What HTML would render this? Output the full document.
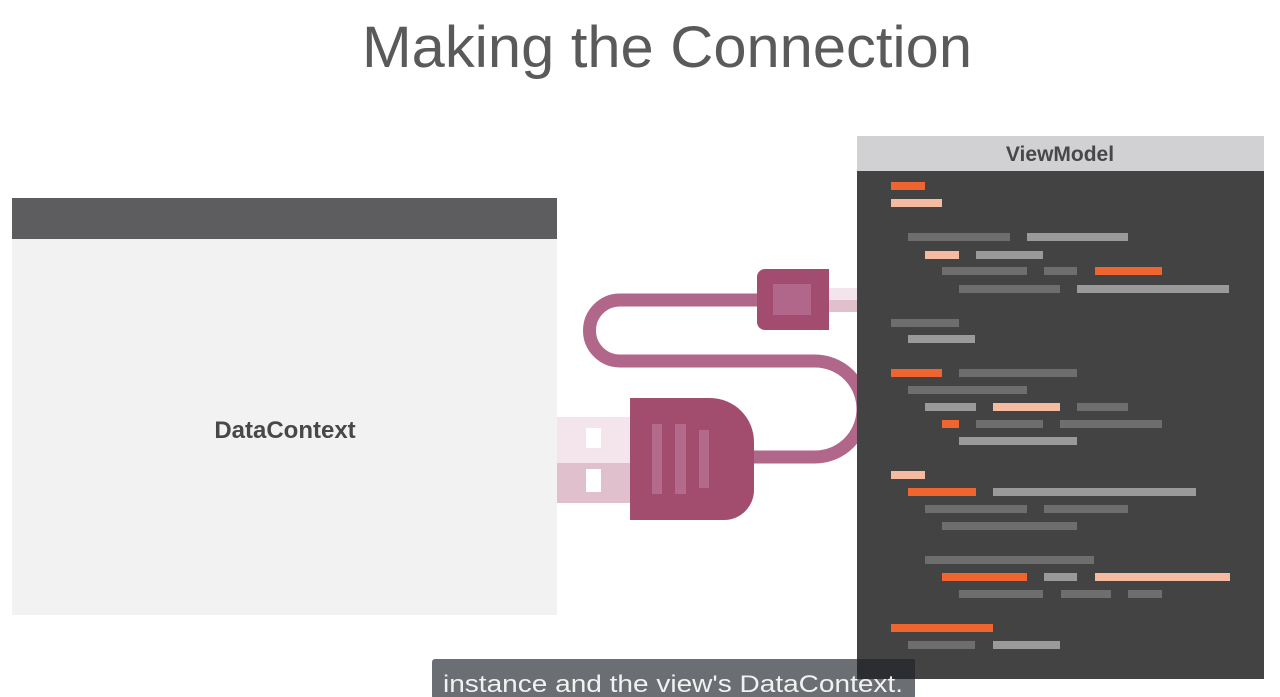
<!DOCTYPE html>
<html><head><meta charset="utf-8"><style>
html,body{margin:0;padding:0;background:#fff;width:1280px;height:697px;overflow:hidden}
svg{display:block}
</style></head><body>
<svg width="1280" height="697" viewBox="0 0 1280 697" xmlns="http://www.w3.org/2000/svg">
<rect width="1280" height="697" fill="#fff"/>
<text x="667" y="67" text-anchor="middle" font-family="Liberation Sans, sans-serif" font-size="58" fill="#5a5a5a" textLength="610" lengthAdjust="spacingAndGlyphs">Making the Connection</text>

<!-- DataContext panel -->
<rect x="12" y="198" width="545" height="417" fill="#f2f2f2"/>
<rect x="12" y="198" width="545" height="41" fill="#5d5d5f"/>
<text x="285" y="438" text-anchor="middle" font-family="Liberation Sans, sans-serif" font-weight="bold" font-size="24" fill="#484848">DataContext</text>

<!-- big plug stubs -->
<rect x="557" y="417" width="73" height="46" fill="#f4e4eb"/>
<rect x="557" y="463" width="73" height="40" fill="#e0c0cc"/>
<rect x="586" y="428" width="15" height="20" fill="#fff"/>
<rect x="586" y="469" width="15" height="23" fill="#fff"/>

<!-- cable -->
<path d="M760 300 H620 A30 30 0 0 0 620 361 H815 A38 38 0 0 1 815 457 H745" fill="none" stroke="#b0678a" stroke-width="13"/>

<!-- small connector stubs -->
<rect x="829" y="288" width="28" height="12" fill="#f4e4eb"/>
<rect x="829" y="300" width="28" height="12" fill="#e0c0cc"/>
<path d="M765 269 H829 V330 H765 A8 8 0 0 1 757 322 V277 A8 8 0 0 1 765 269 Z" fill="#a24d70"/>
<rect x="773" y="284" width="38" height="31" fill="#b0678a"/>

<!-- big plug -->
<path d="M630 398 H710 A44 44 0 0 1 754 442 V490 A30 30 0 0 1 724 520 H630 Z" fill="#a24d6d"/>
<rect x="652" y="424" width="10" height="70" fill="#b46a8a"/>
<rect x="675" y="424" width="11" height="70" fill="#b46a8a"/>
<rect x="699" y="430" width="10" height="58" fill="#b46a8a"/>

<!-- ViewModel panel -->
<rect x="857" y="136" width="407" height="543" fill="#434343"/>
<rect x="857" y="136" width="407" height="35" fill="#d1d1d3"/>
<text x="1060" y="161" text-anchor="middle" font-family="Liberation Sans, sans-serif" font-weight="bold" font-size="21" fill="#484848">ViewModel</text>

<g>
<rect x="891" y="182" width="34" height="8" fill="#ef6530"/>
<rect x="891" y="199" width="51" height="8" fill="#f4bba0"/>
<rect x="908" y="233" width="102" height="8" fill="#6e6e6e"/>
<rect x="1027" y="233" width="101" height="8" fill="#9a9a9a"/>
<rect x="925" y="251" width="34" height="8" fill="#f4bba0"/>
<rect x="976" y="251" width="67" height="8" fill="#9a9a9a"/>
<rect x="942" y="267" width="85" height="8" fill="#6e6e6e"/>
<rect x="1044" y="267" width="33" height="8" fill="#6e6e6e"/>
<rect x="1095" y="267" width="67" height="8" fill="#ef6530"/>
<rect x="959" y="285" width="101" height="8" fill="#6e6e6e"/>
<rect x="1077" y="285" width="152" height="8" fill="#9a9a9a"/>
<rect x="891" y="319" width="68" height="8" fill="#6e6e6e"/>
<rect x="908" y="335" width="67" height="8" fill="#9a9a9a"/>
<rect x="891" y="369" width="51" height="8" fill="#ef6530"/>
<rect x="959" y="369" width="118" height="8" fill="#6e6e6e"/>
<rect x="908" y="386" width="119" height="8" fill="#6e6e6e"/>
<rect x="925" y="403" width="51" height="8" fill="#9a9a9a"/>
<rect x="993" y="403" width="67" height="8" fill="#f4bba0"/>
<rect x="1077" y="403" width="51" height="8" fill="#6e6e6e"/>
<rect x="942" y="420" width="17" height="8" fill="#ef6530"/>
<rect x="976" y="420" width="67" height="8" fill="#6e6e6e"/>
<rect x="1060" y="420" width="102" height="8" fill="#6e6e6e"/>
<rect x="959" y="437" width="118" height="8" fill="#9a9a9a"/>
<rect x="891" y="471" width="34" height="8" fill="#f4bba0"/>
<rect x="908" y="488" width="68" height="8" fill="#ef6530"/>
<rect x="993" y="488" width="203" height="8" fill="#9a9a9a"/>
<rect x="925" y="505" width="102" height="8" fill="#6e6e6e"/>
<rect x="1044" y="505" width="84" height="8" fill="#6e6e6e"/>
<rect x="942" y="522" width="135" height="8" fill="#6e6e6e"/>
<rect x="925" y="556" width="169" height="8" fill="#6e6e6e"/>
<rect x="942" y="573" width="85" height="8" fill="#ef6530"/>
<rect x="1044" y="573" width="33" height="8" fill="#9a9a9a"/>
<rect x="1095" y="573" width="135" height="8" fill="#f4bba0"/>
<rect x="959" y="590" width="84" height="8" fill="#6e6e6e"/>
<rect x="1061" y="590" width="50" height="8" fill="#6e6e6e"/>
<rect x="1128" y="590" width="34" height="8" fill="#6e6e6e"/>
<rect x="891" y="624" width="102" height="8" fill="#ef6530"/>
<rect x="908" y="641" width="67" height="8" fill="#6e6e6e"/>
<rect x="993" y="641" width="67" height="8" fill="#9a9a9a"/>
</g>

<!-- caption -->
<rect x="432" y="659" width="483" height="40" rx="3" fill="#6b6e72"/>
<rect x="857" y="659" width="58" height="20" fill="#2b2d31"/>
<text x="443" y="692" font-family="Liberation Sans, sans-serif" font-size="24" fill="#f2f2f2" textLength="460" lengthAdjust="spacingAndGlyphs">instance and the view's DataContext.</text>
</svg>
</body></html>
